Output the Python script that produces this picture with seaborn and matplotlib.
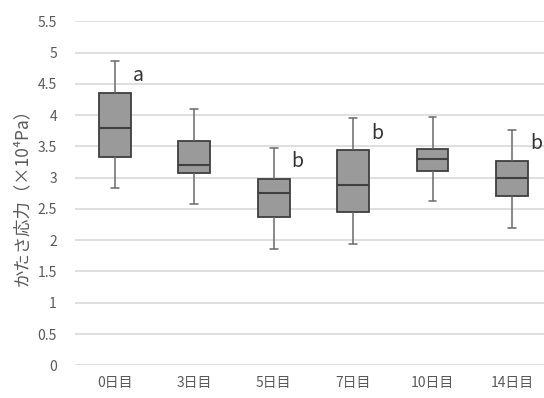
import numpy as np
import pandas as pd
import matplotlib
matplotlib.use("Agg")
import matplotlib.pyplot as plt
import seaborn as sns

# 各日のかたさ応力（×10^4 Pa）の五数要約
days = ["0日目", "3日目", "5日目", "7日目", "10日目", "14日目"]
whisker_low = [2.83, 2.58, 1.86, 1.94, 2.63, 2.19]
q1 = [3.33, 3.07, 2.37, 2.45, 3.11, 2.70]
median = [3.80, 3.21, 2.76, 2.89, 3.30, 3.00]
q3 = [4.35, 3.59, 2.98, 3.44, 3.46, 3.27]
whisker_high = [4.86, 4.10, 3.48, 3.96, 3.97, 3.77]

# 有意差の記号
sig_days = ["0日目", "5日目", "7日目", "14日目"]
sig_letters = ["a", "b", "b", "b"]
sig_y = [4.64, 3.26, 3.71, 3.55]

yticks = [0, 0.5, 1, 1.5, 2, 2.5, 3, 3.5, 4, 4.5, 5, 5.5]
ytick_labels = ["0", "0.5", "1", "1.5", "2", "2.5", "3", "3.5", "4", "4.5", "5", "5.5"]

# 五数をそのまま箱ひげにするため、各日5点のデータを作る
rows = []
for i, d in enumerate(days):
    for v in (whisker_low[i], q1[i], median[i], q3[i], whisker_high[i]):
        rows.append({"day": d, "value": v})
df = pd.DataFrame(rows)

sns.set_theme(style="white")
plt.rcParams["font.family"] = ["Noto Sans CJK JP", "DejaVu Sans"]

text_color = "#595959"
fig = plt.figure(figsize=(5.44, 3.98), dpi=100)
ax = fig.add_axes([75 / 544, 1 - 365.3 / 398, (551.7 - 75) / 544, (365.3 - 21.3) / 398])

sns.boxplot(
    data=df, x="day", y="value", order=days, ax=ax,
    whis=(0, 100), width=0.4, color="#9a9a9a", saturation=1,
    linewidth=1.3, linecolor="#3f3f3f",
    whiskerprops=dict(color="#6a6a6a", linewidth=1.1),
    capprops=dict(color="#6a6a6a", linewidth=1.1),
    medianprops=dict(color="#3f3f3f", linewidth=1.5),
    zorder=3,
)

# キャップ幅を短めに
for line in ax.lines:
    xd = np.asarray(line.get_xdata(), dtype=float)
    yd = np.asarray(line.get_ydata(), dtype=float)
    if len(xd) == 2 and yd[0] == yd[1] and line.get_color() == "#6a6a6a":
        c = xd.mean()
        line.set_xdata([c - 0.05, c + 0.05])

ax.set_ylim(0, 5.5)
ax.set_xlim(-0.5, len(days) - 0.5)
ax.set_yticks(yticks)
ax.set_yticklabels(ytick_labels)
ax.yaxis.grid(True, color="#d9d9d9", linewidth=1.2, zorder=0)
ax.set_axisbelow(True)
for s in ax.spines.values():
    s.set_visible(False)
ax.tick_params(axis="both", length=0, colors=text_color, labelsize=10)
ax.tick_params(axis="y", pad=13)
ax.tick_params(axis="x", pad=8)
ax.set_xlabel("")
ax.set_ylabel("かたさ応力（×10⁴Pa）", color=text_color, fontsize=12.5)
ax.yaxis.label.set_va("center")
ax.yaxis.set_label_coords(-53 / 476.7, 0.5)

for d, lab, y in zip(sig_days, sig_letters, sig_y):
    x = days.index(d) + 0.3
    ax.text(x, y, lab, color="#333333", fontsize=14, ha="center", va="center",
            family=["Noto Sans CJK JP", "DejaVu Sans"])

fig.savefig("out.png", dpi=100)
